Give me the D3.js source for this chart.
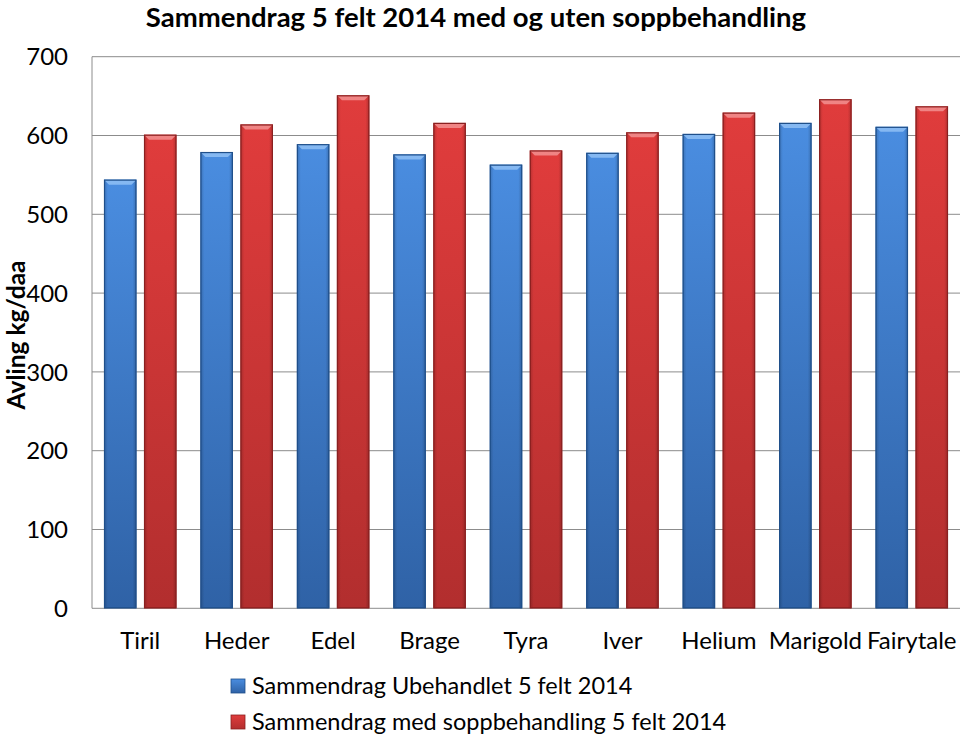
<!DOCTYPE html>
<html><head><meta charset="utf-8">
<script src="https://cdn.jsdelivr.net/npm/d3@7"></script>
<style>body{margin:0;background:#fff}svg{display:block}</style>
</head><body><svg id="c" width="960" height="739"></svg>
<script>
const categories = ["Tiril","Heder","Edel","Brage","Tyra","Iver","Helium","Marigold","Fairytale"];
const seriesNames = ["Sammendrag Ubehandlet 5 felt 2014","Sammendrag med soppbehandling 5 felt 2014"];
const untreated = [544, 579, 589, 576, 563, 578, 602, 616, 611];
const treated   = [601, 614, 651, 616, 581, 604, 629, 646, 637];
const yTicks = [0,100,200,300,400,500,600,700];
const title = "Sammendrag 5 felt 2014 med og uten soppbehandling";
const yTitle = "Avling kg/daa";

const svg = d3.select("#c");
const font = "Lato, 'Open Sans', sans-serif";
const L=92, R=960, T=56.7, B=608.3;

const defs = svg.append("defs");
function grad(id, c1, c2){
  const g = defs.append("linearGradient").attr("id",id).attr("x1",0).attr("y1",0).attr("x2",0).attr("y2",1);
  g.append("stop").attr("offset","0%").attr("stop-color",c1);
  g.append("stop").attr("offset","100%").attr("stop-color",c2);
  const h = defs.append("linearGradient").attr("id",id+"h").attr("x1",0).attr("y1",0).attr("x2",1).attr("y2",0);
  h.append("stop").attr("offset","0%").attr("stop-color","#000").attr("stop-opacity",0.18);
  h.append("stop").attr("offset","12%").attr("stop-color","#000").attr("stop-opacity",0);
  h.append("stop").attr("offset","88%").attr("stop-color","#000").attr("stop-opacity",0);
  h.append("stop").attr("offset","100%").attr("stop-color","#000").attr("stop-opacity",0.2);
}
grad("gb","#4a8de0","#2f62a6");
grad("gr","#e03c3c","#b22e2e");
const colors = [{fill:"url(#gb)",shade:"url(#gbh)",stroke:"#1f4f8a",hi:"#8fc0f5"},
                {fill:"url(#gr)",shade:"url(#grh)",stroke:"#8a2020",hi:"#f29090"}];

const x = d3.scaleBand().domain(categories).range([L,R]).paddingInner(0).paddingOuter(0);
const xs = d3.scaleBand().domain([0,1]).range([0,x.bandwidth()]).paddingInner(0.19).paddingOuter(0.3);
const y = d3.scaleLinear().domain([0,700]).range([B,T]);

// gridlines
svg.append("g").selectAll("line").data(yTicks.filter(d=>d>0)).join("line")
  .attr("x1",L).attr("x2",R).attr("y1",d=>y(d)).attr("y2",d=>y(d))
  .attr("stroke","#8c8c8c").attr("stroke-width",1);
svg.append("line").attr("x1",L).attr("x2",L).attr("y1",T).attr("y2",B).attr("stroke","#8c8c8c");
svg.append("line").attr("x1",L).attr("x2",R).attr("y1",B).attr("y2",B).attr("stroke","#8c8c8c");

// y tick labels
svg.append("g").selectAll("text").data(yTicks).join("text")
  .attr("x",68).attr("y",d=>y(d)).attr("dy","0.36em").attr("text-anchor","end")
  .attr("font-family",font).attr("font-size",24).attr("fill","#000").text(d=>d);

// bars
const data = categories.map((c,i)=>({c, v:[untreated[i],treated[i]]}));
const groups = svg.append("g").selectAll("g").data(data).join("g")
  .attr("transform",d=>`translate(${x(d.c)},0)`);
const bars = groups.selectAll("g").data(d=>d.v.map((v,k)=>({v,k}))).join("g");
bars.append("rect").attr("x",d=>xs(d.k)).attr("y",d=>y(d.v)).attr("width",xs.bandwidth())
  .attr("height",d=>B-y(d.v)).attr("fill",d=>colors[d.k].fill);
bars.append("rect").attr("x",d=>xs(d.k)).attr("y",d=>y(d.v)).attr("width",xs.bandwidth())
  .attr("height",d=>B-y(d.v)).attr("fill",d=>colors[d.k].shade);
bars.append("path").attr("d",d=>{
  const x0=xs(d.k), w=xs.bandwidth(), t=y(d.v), b=5;
  return `M${x0},${t}L${x0+w},${t}L${x0+w-b},${t+b}L${x0+b},${t+b}Z`;
}).attr("fill",d=>colors[d.k].hi).attr("opacity",0.85);
bars.append("rect").attr("x",d=>xs(d.k)+0.5).attr("y",d=>y(d.v)+0.5).attr("width",xs.bandwidth()-1)
  .attr("height",d=>B-y(d.v)-1).attr("fill","none").attr("stroke",d=>colors[d.k].stroke).attr("stroke-width",1.2);

// x labels
svg.append("g").selectAll("text").data(categories).join("text")
  .attr("x",d=>x(d)+x.bandwidth()/2).attr("y",649).attr("text-anchor","middle")
  .attr("font-family",font).attr("font-size",24).attr("fill","#000").text(d=>d);

// title
svg.append("text").attr("x",476).attr("y",27).attr("text-anchor","middle")
  .attr("font-family",font).attr("font-weight","bold").attr("font-size",27.5).attr("fill","#000").text(title);
// y title
svg.append("text").attr("transform","translate(24.5,335) rotate(-90)").attr("text-anchor","middle")
  .attr("font-family",font).attr("font-weight","bold").attr("font-size",24.5).attr("fill","#000").text(yTitle);

// legend
const lg = svg.append("g").selectAll("g").data(seriesNames).join("g")
  .attr("transform",(d,i)=>`translate(231,${686+i*36})`);
lg.append("rect").attr("x",0).attr("y",-7).attr("width",14).attr("height",14)
  .attr("fill",(d,i)=>colors[i].fill).attr("stroke",(d,i)=>colors[i].stroke).attr("stroke-width",0.8);
lg.append("text").attr("x",21).attr("y",0).attr("dy","0.36em")
  .attr("font-family",font).attr("font-size",23.5).attr("fill","#000").text(d=>d);
</script></body></html>
